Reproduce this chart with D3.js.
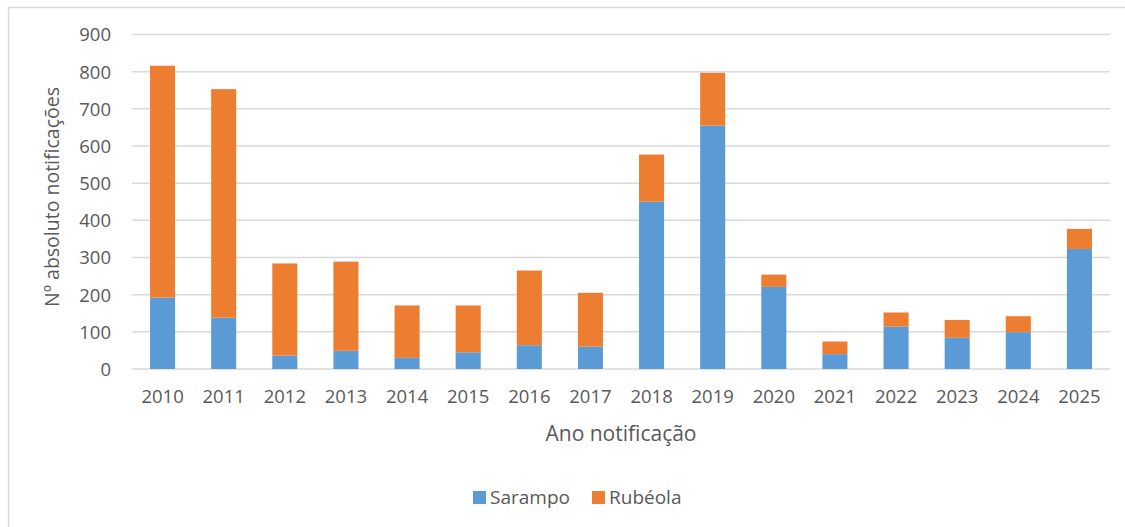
<!DOCTYPE html>
<html>
<head>
<meta charset="utf-8">
<script src="https://cdn.jsdelivr.net/npm/d3@7"></script>
<style>
  html, body { margin: 0; padding: 0; background: #ffffff; }
  svg { display: block; }
  text { font-family: "Open Sans", sans-serif; fill: #595959; }
</style>
</head>
<body>
<svg id="chart" width="1125" height="527"></svg>
<script>
// ---- data ----
const years = ["2010","2011","2012","2013","2014","2015","2016","2017","2018","2019","2020","2021","2022","2023","2024","2025"];
const sarampo = [192, 138, 36, 49, 30, 45, 64, 60, 450, 655, 221, 40, 114, 84, 99, 323];
const rubeola = [624, 615, 248, 240, 141, 126, 201, 145, 127, 142, 33, 34, 38, 48, 43, 54];
const yTicks = [0, 100, 200, 300, 400, 500, 600, 700, 800, 900];
const seriesNames = ["Sarampo", "Rubéola"];
const seriesColors = ["#5B9BD5", "#ED7D31"];
const xTitle = "Ano notificação";
const yTitle = "Nº absoluto notificações";

// ---- layout ----
const svg = d3.select("#chart");
const plot = { left: 132, right: 1110, top: 34.5, bottom: 369 };

// outer chart border (partially cropped in the reference)
svg.append("rect")
  .attr("x", 8.5).attr("y", 7.5)
  .attr("width", 1200).attr("height", 600)
  .attr("fill", "none").attr("stroke", "#d9d9d9").attr("stroke-width", 1.5);

const x = d3.scaleBand().domain(years).range([plot.left, plot.right]).paddingInner(0.59).paddingOuter(0.295);
const y = d3.scaleLinear().domain([0, 900]).range([plot.bottom, plot.top]);

// gridlines
svg.append("g").selectAll("line").data(yTicks).join("line")
  .attr("x1", plot.left).attr("x2", plot.right)
  .attr("y1", d => y(d)).attr("y2", d => y(d))
  .attr("stroke", "#d9d9d9").attr("stroke-width", 1.5);

// stacked data
const table = years.map((yr, i) => ({ year: yr, Sarampo: sarampo[i], "Rubéola": rubeola[i] }));
const stacked = d3.stack().keys(seriesNames)(table);

svg.append("g").selectAll("g").data(stacked).join("g")
  .attr("fill", (d, i) => seriesColors[i])
  .selectAll("rect").data(d => d).join("rect")
  .attr("x", d => x(d.data.year))
  .attr("width", x.bandwidth())
  .attr("y", d => y(d[1]))
  .attr("height", d => y(d[0]) - y(d[1]));

// y axis labels
const yAxis = d3.axisLeft(y).tickValues(yTicks).tickSize(0).tickPadding(0);
const yg = svg.append("g").attr("transform", `translate(111,0)`).call(yAxis);
yg.select(".domain").remove();
yg.selectAll("text")
  .attr("font-family", "Open Sans").attr("font-size", 18.5).attr("fill", "#595959")
  .attr("dy", "0.35em").attr("x", 0);

// x axis labels
const xAxis = d3.axisBottom(x).tickSize(0).tickPadding(0);
const xg = svg.append("g").attr("transform", `translate(0,${plot.bottom})`).call(xAxis);
xg.select(".domain").remove();
xg.selectAll("text")
  .attr("font-family", "Open Sans").attr("font-size", 18.5).attr("fill", "#595959")
  .attr("y", 34).attr("dy", 0);

// axis titles
svg.append("text")
  .attr("x", (plot.left + plot.right) / 2).attr("y", 441)
  .attr("text-anchor", "middle").attr("font-size", 21).text(xTitle);

svg.append("text")
  .attr("transform", `translate(59,197) rotate(-90)`)
  .attr("text-anchor", "middle").attr("font-size", 19.5).text(yTitle);

// legend
const legendX = [473, 592];
const lg = svg.append("g").selectAll("g").data(seriesNames).join("g")
  .attr("transform", (d, i) => `translate(${legendX[i]},491)`);
lg.append("rect").attr("width", 13).attr("height", 13).attr("fill", (d, i) => seriesColors[i]);
lg.append("text").attr("x", 17).attr("y", 13).attr("font-size", 19).text(d => d);
</script>
</body>
</html>
